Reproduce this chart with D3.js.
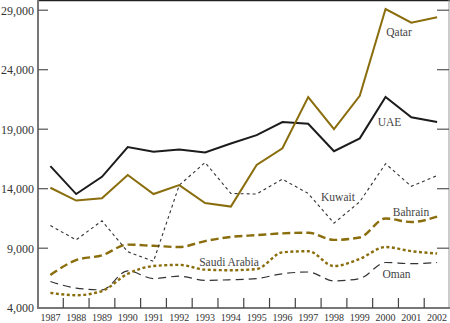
<!DOCTYPE html>
<html><head><meta charset="utf-8">
<script src="https://cdn.jsdelivr.net/npm/d3@7"></script>
<style>body{margin:0;background:#fff}svg{display:block}</style>
</head><body>
<svg id="c" width="450" height="323"></svg>
<script>
const years = [1987,1988,1989,1990,1991,1992,1993,1994,1995,1996,1997,1998,1999,2000,2001,2002];
const yTicks = [4000,9000,14000,19000,24000,29000];
const qatar  = [14080,13000,13200,15150,13550,14300,12800,12500,16000,17400,21700,19000,21800,29100,27950,28400];
const uae    = [15900,13550,15000,17500,17100,17300,17050,17800,18500,19600,19450,17150,18230,21700,20000,19600];
const kuwait = [10900,9700,11300,8700,7900,14300,16200,13600,13550,14800,13600,11100,12900,16100,14200,15100];
const bahrain= [6750,8000,8400,9300,9200,9100,9600,9950,10100,10250,10300,9700,9900,11500,11200,11650];
const saudi  = [5250,5050,5400,6850,7500,7600,7200,7150,7250,8650,8750,7500,8100,9100,8750,8550];
const oman   = [6200,5650,5500,7100,6450,6650,6300,6350,6450,6850,7000,6250,6450,7800,7700,7800];
const seriesNames = ["Qatar","UAE","Kuwait","Bahrain","Saudi Arabia","Oman"];

const gold = "#8a6d0c";
const styles = {
  "Qatar":        {data:qatar,  color:gold,   w:2,   dash:null,  curve:d3.curveLinear, lx:399, ly:32},
  "UAE":          {data:uae,    color:"#1c1c1c", w:2, dash:null, curve:d3.curveLinear, lx:389.5, ly:122},
  "Kuwait":       {data:kuwait, color:"#333", w:1.1, dash:"3,3", curve:d3.curveLinear, lx:338, ly:197},
  "Bahrain":      {data:bahrain,color:gold,   w:2.4, dash:"8,4", curve:d3.curveMonotoneX, lx:411, ly:212},
  "Saudi Arabia": {data:saudi,  color:gold,   w:2.4, dash:"3,2.5", curve:d3.curveMonotoneX, lx:229, ly:262},
  "Oman":         {data:oman,   color:"#333", w:1.2, dash:"8,5", curve:d3.curveMonotoneX, lx:396.5, ly:274}
};

const svg = d3.select("#c");
const x = d3.scaleBand().domain(years).range([37.5, 450]);
const cx = d => x(d) + x.bandwidth()/2;
const y = d3.scaleLinear().domain([4000, 29000]).range([307.7, 10.2]);
const serif = "'Liberation Serif','DejaVu Serif',serif";

// frame
svg.append("line").attr("x1",38).attr("x2",450).attr("y1",0.5).attr("y2",0.5).attr("stroke","#222").attr("stroke-width",1.5);
svg.append("line").attr("x1",38).attr("x2",38).attr("y1",0).attr("y2",308).attr("stroke","#777").attr("stroke-width",2);
svg.append("line").attr("x1",449).attr("x2",449).attr("y1",0).attr("y2",308).attr("stroke","#999").attr("stroke-width",1);
svg.append("line").attr("x1",37).attr("x2",450).attr("y1",308).attr("y2",308).attr("stroke","#777").attr("stroke-width",2);

// left axis
const yl = d3.axisLeft(y).tickValues(yTicks).tickSize(0).tickPadding(4).tickFormat(d3.format(","));
const gl = svg.append("g").attr("transform","translate(38,0)").call(yl);
gl.select(".domain").remove();
gl.selectAll("text").attr("font-family",serif).attr("font-size",12).attr("fill","#333");
svg.append("g").selectAll("line").data(yTicks.filter(t=>t>4000)).join("line")
  .attr("x1",38).attr("x2",48).attr("y1",d=>y(d)).attr("y2",d=>y(d)).attr("stroke","#555").attr("stroke-width",1.2);
svg.append("g").selectAll("line").data(yTicks.filter(t=>t>4000)).join("line")
  .attr("x1",437).attr("x2",449).attr("y1",d=>y(d)).attr("y2",d=>y(d)).attr("stroke","#555").attr("stroke-width",1.2);

// bottom axis
svg.append("g").selectAll("line").data(years.slice(1)).join("line")
  .attr("x1",d=>x(d)).attr("x2",d=>x(d)).attr("y1",298).attr("y2",308).attr("stroke","#444").attr("stroke-width",1.2);
svg.append("g").selectAll("text").data(years).join("text")
  .attr("x",d=>cx(d)).attr("y",320.5).attr("text-anchor","middle")
  .attr("font-family",serif).attr("font-size",10).attr("fill","#333").text(d=>d);

// lines
seriesNames.slice().reverse().forEach(n=>{
  const s = styles[n];
  const line = d3.line().x((d,i)=>cx(years[i])).y(d=>y(d)).curve(s.curve);
  svg.append("path").datum(s.data).attr("d",line).attr("fill","none")
    .attr("stroke",s.color).attr("stroke-width",s.w)
    .attr("stroke-dasharray",s.dash).attr("stroke-linejoin","miter");
});

// labels
seriesNames.forEach(n=>{
  const s = styles[n];
  svg.append("text").attr("x",s.lx).attr("y",s.ly).attr("dy","0.35em").attr("text-anchor","middle")
    .attr("font-family",serif).attr("font-size",11.5).attr("fill","#444").text(n);
});
</script>
</body></html>
